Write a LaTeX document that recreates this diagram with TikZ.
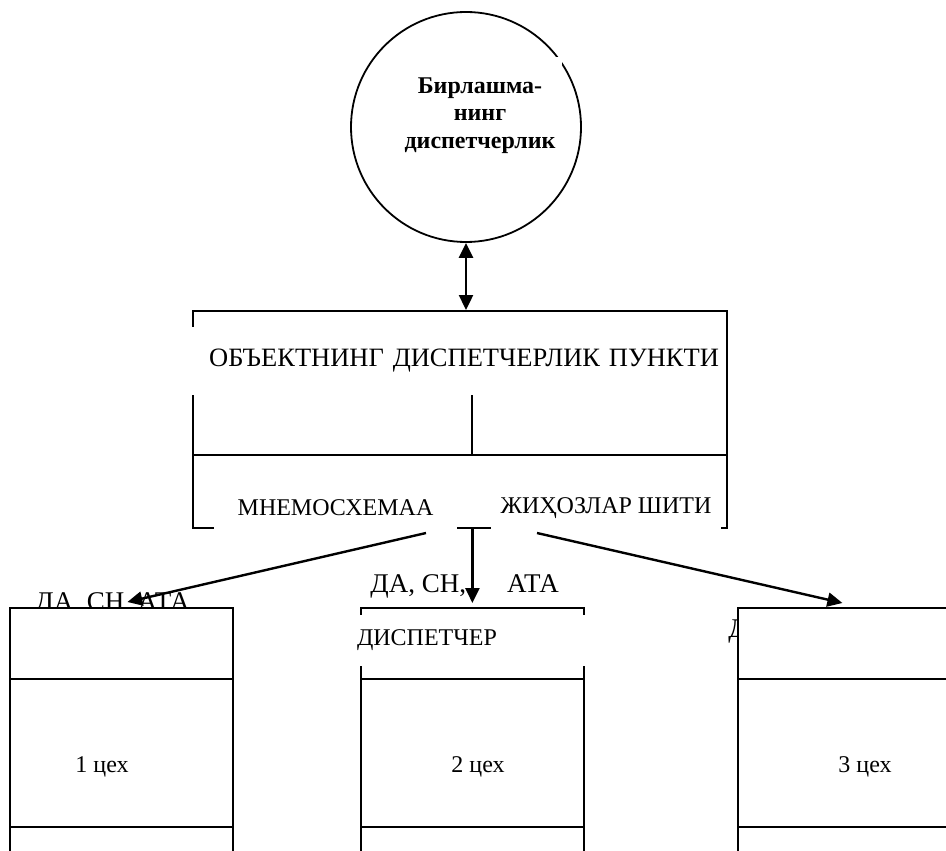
\documentclass[tikz,border=0pt]{standalone}
\usepackage{fontspec}
\setmainfont{Liberation Serif}
\usetikzlibrary{arrows.meta}

\tikzset{
  frame/.style={draw,line width=0.9pt,fill=white,inner sep=0pt},
  cover/.style={fill=white,inner sep=0pt},
  link/.style={line width=1.2pt,-{Triangle[length=7.5pt,width=7pt]}},
  cexbox/.style={frame,anchor=north west,minimum width=111.5pt,minimum height=126.5pt},
  cexlabel/.style={anchor=base west,inner sep=0pt,font=\fontsize{13.5}{15}\selectfont}
}

\begin{document}
\begin{tikzpicture}[x=0.5pt,y=-0.5pt,font=\fontsize{12}{13.75}\selectfont]
    \useasboundingbox (0,0) rectangle (946,850);
    \clip (0,0) rectangle (946,850);

    \node[draw,circle,line width=0.9pt,minimum size=115pt,inner sep=0pt](birl) at (466,127) {};
    \node[cover,minimum width=82pt,minimum height=58pt,align=center,font=\fontsize{12}{13.75}\selectfont\bfseries](birlmatn)
      at (480,115.5) {Бирлашма-\\нинг\\диспетчерлик};

    \node[frame,anchor=north west,minimum width=267pt,minimum height=108.5pt](punkt) at (192,310) {};
    \draw[line width=0.9pt] (punkt.west |- 0,455) -- (punkt.east |- 0,455);
    \path (456,361) node[cover,minimum width=268pt,minimum height=34pt,text width=263pt,align=right,
        font=\fontsize{13.25}{15}\selectfont](objekt)
        {ОБЪЕКТНИНГ ДИСПЕТЧЕРЛИК ПУНКТИ}
      (335.5,508) node[cover,minimum width=121.5pt,minimum height=23pt](mnemo){МНЕМОСХЕМАА}
      (606,508) node[cover,minimum width=115pt,minimum height=23pt](shit){ЖИҲОЗЛАР ШИТИ};
    \draw[line width=0.9pt] (objekt.south -| 472,0) -- (472,455);

    % labels under the boxes' top edge
    \path (35,610) node[cexlabel](lab1){ДА, СН, АТА}
      (728,637) node[cexlabel](lab3){ДА, СН, АТА};

    \node[cexbox](cex1) at (9,607) {};
    \node[cexbox](cex2) at (360,607) {};
    \node[cexbox](cex3) at (737,607) {};
    \foreach \b in {cex1,cex2,cex3}
      \foreach \y in {679,827}
        \draw[line width=0.9pt] (\b.west |- 0,\y) -- (\b.east |- 0,\y);

    \path (370,592) node[cexlabel](lab2){ДА, СН,\hspace{20.5pt}АТА}
      (470,640.5) node[cover,minimum width=115pt,minimum height=25.5pt,text width=113pt,align=left](dispetcher){ДИСПЕТЧЕР}
      (102,767) node(n1){1 цех}
      (478,767) node(n2){2 цех}
      (865,767) node(n3){3 цех};

    \draw[line width=1.2pt,{Triangle[length=7.5pt,width=7pt]}-{Triangle[length=7.5pt,width=7pt]}]
      (birl.south) -- (birl.south |- punkt.north);

    \coordinate (hub) at (cex2.north |- punkt.south);
    \coordinate (l0) at (426,533);
    \coordinate (r0) at (537,533);
    \draw[link] (hub) -- ([yshift=2pt]cex2.north);
    \draw[link] (l0) -- ([xshift=3pt,yshift=2.5pt]cex1.north);
    \draw[link] (r0) -- ([xshift=-3.5pt,yshift=2pt]cex3.north);
\end{tikzpicture}
\end{document}
